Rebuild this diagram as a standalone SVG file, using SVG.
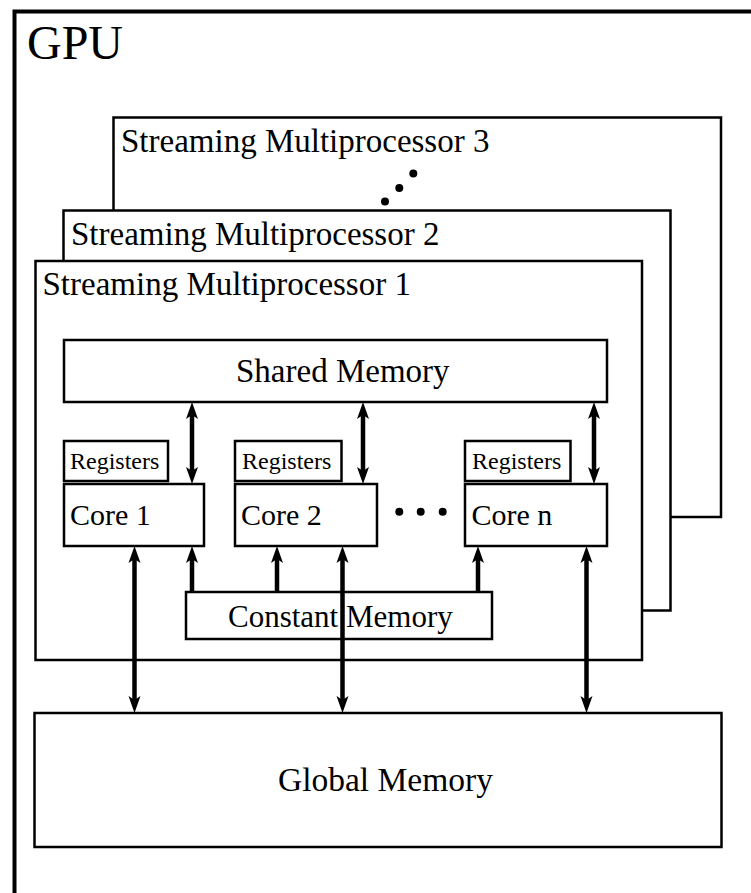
<svg xmlns="http://www.w3.org/2000/svg" width="751" height="893" viewBox="0 0 751 893">
  <style>
    .box { fill: #fff; stroke: #000; stroke-width: 2.5; }
    .frame { fill: none; stroke: #000; stroke-width: 4; }
    .lbl { font-family: "Liberation Serif", "Times New Roman", serif; fill: #000; }
    .wire { stroke: #000; stroke-width: 4.5; fill: none; }
    .dot { fill: #000; }
  </style>
  <defs>
    <!-- arrowhead: tip sits 12px beyond the line end -->
    <marker id="head" markerUnits="userSpaceOnUse" markerWidth="30" markerHeight="30" refX="0" refY="0" viewBox="-10 -10 30 20" orient="auto-start-reverse" overflow="visible">
      <path d="M12,0 L-5,-6 L-1,0 L-5,6 Z" fill="#000"/>
    </marker>
  </defs>

  <rect width="751" height="893" fill="#fff"/>

  <!-- outer GPU frame, runs off the right and bottom edges -->
  <g id="gpu">
    <rect class="frame" x="14.5" y="11.5" width="800" height="950"/>
    <text class="lbl" x="27" y="59" font-size="48">GPU</text>
  </g>

  <!-- stacked streaming multiprocessors, back to front -->
  <g id="sm3">
    <rect class="box" x="113.5" y="117.5" width="607.5" height="399.5"/>
    <text class="lbl" x="121" y="152" font-size="33">Streaming Multiprocessor 3</text>
    <circle class="dot" cx="385" cy="201.5" r="4"/>
    <circle class="dot" cx="399.3" cy="188" r="4"/>
    <circle class="dot" cx="413.3" cy="173.5" r="4"/>
  </g>
  <g id="sm2">
    <rect class="box" x="63.5" y="210.5" width="607" height="400"/>
    <text class="lbl" x="71" y="245" font-size="33">Streaming Multiprocessor 2</text>
  </g>
  <g id="sm1">
    <rect class="box" x="35.5" y="261" width="606.5" height="399"/>
    <text class="lbl" x="42.5" y="295" font-size="33">Streaming Multiprocessor 1</text>
  </g>

  <g id="shared-memory">
    <rect class="box" x="64" y="340" width="543" height="62"/>
    <text class="lbl" x="236" y="382" font-size="33">Shared Memory</text>
  </g>

  <g id="registers-1">
    <rect class="box" x="64" y="441" width="104" height="40"/>
    <text class="lbl" x="70" y="468.5" font-size="24">Registers</text>
  </g>
  <g id="core-1">
    <rect class="box" x="64" y="484" width="140" height="62"/>
    <text class="lbl" x="70" y="525" font-size="30">Core 1</text>
  </g>

  <g id="registers-2">
    <rect class="box" x="235" y="441" width="106.5" height="40"/>
    <text class="lbl" x="242" y="468.5" font-size="24">Registers</text>
  </g>
  <g id="core-2">
    <rect class="box" x="235" y="484" width="142" height="62"/>
    <text class="lbl" x="241" y="525" font-size="30">Core 2</text>
  </g>

  <g id="core-ellipsis">
    <circle class="dot" cx="399.3" cy="511.7" r="4"/>
    <circle class="dot" cx="420.7" cy="511.7" r="4"/>
    <circle class="dot" cx="442.7" cy="511.7" r="4"/>
  </g>

  <g id="registers-n">
    <rect class="box" x="465" y="441" width="105.5" height="40"/>
    <text class="lbl" x="472" y="468.5" font-size="24">Registers</text>
  </g>
  <g id="core-n">
    <rect class="box" x="465" y="484" width="142" height="62"/>
    <text class="lbl" x="471.5" y="525" font-size="30">Core n</text>
  </g>

  <g id="constant-memory">
    <rect class="box" x="186" y="592" width="306" height="47"/>
    <text class="lbl" x="228" y="626.5" font-size="31">Constant Memory</text>
  </g>

  <g id="global-memory">
    <rect class="box" x="34.5" y="713" width="687" height="134"/>
    <text class="lbl" x="278" y="790.5" font-size="33.5">Global Memory</text>
  </g>

  <g id="connectors">
    <!-- shared memory <-> cores -->
    <line class="wire" x1="192" y1="414" x2="192" y2="472" marker-start="url(#head)" marker-end="url(#head)"/>
    <line class="wire" x1="363" y1="414" x2="363" y2="472" marker-start="url(#head)" marker-end="url(#head)"/>
    <line class="wire" x1="594" y1="414" x2="594" y2="472" marker-start="url(#head)" marker-end="url(#head)"/>
    <!-- constant memory -> cores -->
    <line class="wire" x1="192" y1="592" x2="192" y2="558" marker-end="url(#head)"/>
    <line class="wire" x1="277" y1="592" x2="277" y2="558" marker-end="url(#head)"/>
    <line class="wire" x1="478" y1="592" x2="478" y2="558" marker-end="url(#head)"/>
    <!-- cores <-> global memory -->
    <line class="wire" x1="134.5" y1="558" x2="134.5" y2="701" marker-start="url(#head)" marker-end="url(#head)"/>
    <line class="wire" x1="342.5" y1="558" x2="342.5" y2="701" marker-start="url(#head)" marker-end="url(#head)"/>
    <line class="wire" x1="586.5" y1="558" x2="586.5" y2="701" marker-start="url(#head)" marker-end="url(#head)"/>
  </g>
</svg>
